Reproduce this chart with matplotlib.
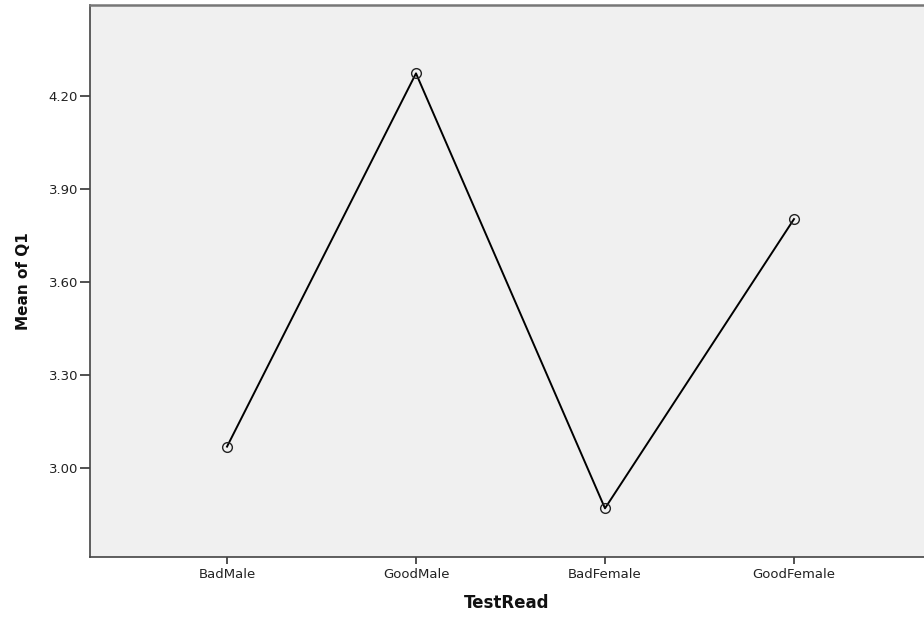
import matplotlib.pyplot as plt

categories = ["BadMale", "GoodMale", "BadFemale", "GoodFemale"]
means = [3.069, 4.273, 2.870, 3.803]
yticks = [3.00, 3.30, 3.60, 3.90, 4.20]

plt.rcParams["font.family"] = ["DejaVu Sans"]

fig = plt.figure(figsize=(9.24, 6.19), dpi=100)
ax = fig.add_axes([90 / 924, 1 - 557 / 619, 1 - 90 / 924, 552 / 619])
ax.set_facecolor("#f0f0f0")

x = list(range(len(categories)))
ax.plot(x, means, color="black", linewidth=1.4, marker="o", markersize=7,
        markerfacecolor="none", markeredgecolor="#222222", markeredgewidth=1.0)

ax.set_xlim(-0.725, 3.688)
ax.set_ylim(2.713, 4.4935)
ax.set_xticks(x)
ax.set_xticklabels(categories, fontsize=9.5, color="#222222")
ax.set_yticks(yticks)
ax.set_yticklabels([f"{v:.2f}" for v in yticks], fontsize=9.5, color="#222222")
ax.tick_params(axis="x", direction="out", length=5, width=1.2, color="#333333", pad=3)
ax.tick_params(axis="y", direction="out", length=7, width=1.2, color="#333333", pad=1.5)

for side in ["left", "bottom"]:
    ax.spines[side].set_color("#444444")
    ax.spines[side].set_linewidth(1.2)
ax.spines["top"].set_color("#777777")
ax.spines["top"].set_linewidth(1.8)
ax.spines["right"].set_visible(False)

ax.set_xlabel("TestRead", fontsize=12, fontweight="bold", labelpad=9, color="#111111")
ax.set_ylabel("Mean of Q1", fontsize=11, fontweight="bold", labelpad=13, color="#111111")

fig.savefig("out.png", dpi=100)
